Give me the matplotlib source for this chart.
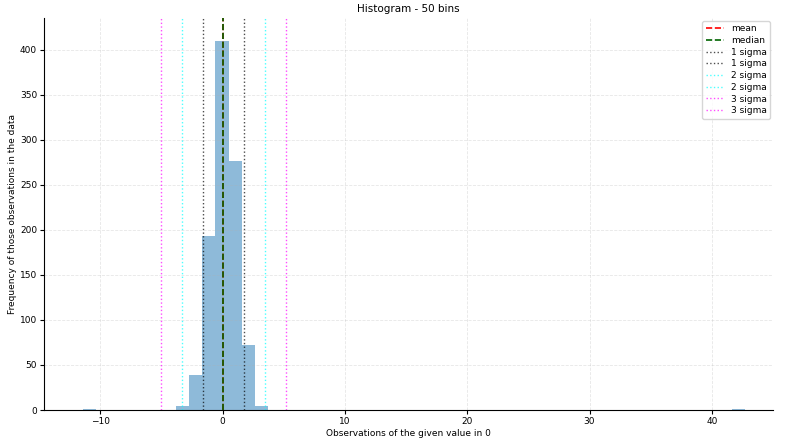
import matplotlib
matplotlib.use("Agg")
import matplotlib.pyplot as plt
import numpy as np

bin_min, bin_max, n_bins = -11.4, 42.7, 50
counts = [1, 0, 0, 0, 0, 0, 0, 4, 39, 193, 410, 276, 72, 4] + [0]*35 + [1]
mean_val = 0.07
median_val = 0.03
sigma = 1.71

edges = np.linspace(bin_min, bin_max, n_bins + 1)
centers = (edges[:-1] + edges[1:]) / 2

plt.rcParams['font.size'] = 6.5
fig = plt.figure(figsize=(7.99, 4.42), dpi=100)
ax = fig.add_axes([44/799, 32/442, 729/799, 392/442])
ax.hist(centers, bins=edges, weights=counts, color='#1f77b4', alpha=0.5)
ax.axvline(mean_val, color='red', ls='--', lw=1.2, label='mean', zorder=3)
ax.axvline(median_val, color='darkgreen', ls='--', lw=1.2, label='median', zorder=4)
styles = [(1, 'black', 0.7), (2, 'cyan', 0.7), (3, 'magenta', 0.7)]
for k, c, a in styles:
    ax.axvline(mean_val - k*sigma, color=c, ls=':', lw=1, alpha=a, label=f'{k} sigma')
    ax.axvline(mean_val + k*sigma, color=c, ls=':', lw=1, alpha=a, label=f'{k} sigma')
ax.set_xlim(-14.6, 45.0)
ax.set_ylim(0, 435)
ax.set_yticks(range(0, 401, 50))
ax.tick_params(pad=2, length=3)
ax.grid(True, ls='--', alpha=0.3, lw=0.6)
ax.spines['top'].set_visible(False)
ax.spines['right'].set_visible(False)
ax.set_title('Histogram - 50 bins', fontsize=7.5, pad=4)
ax.set_xlabel('Observations of the given value in 0', labelpad=2)
ax.set_ylabel('Frequency of those observations in the data', labelpad=2)
ax.legend(loc='upper right', fontsize=6.5, borderaxespad=0.3, handlelength=2, labelspacing=0.3)
fig.savefig('out.png', dpi=100)
